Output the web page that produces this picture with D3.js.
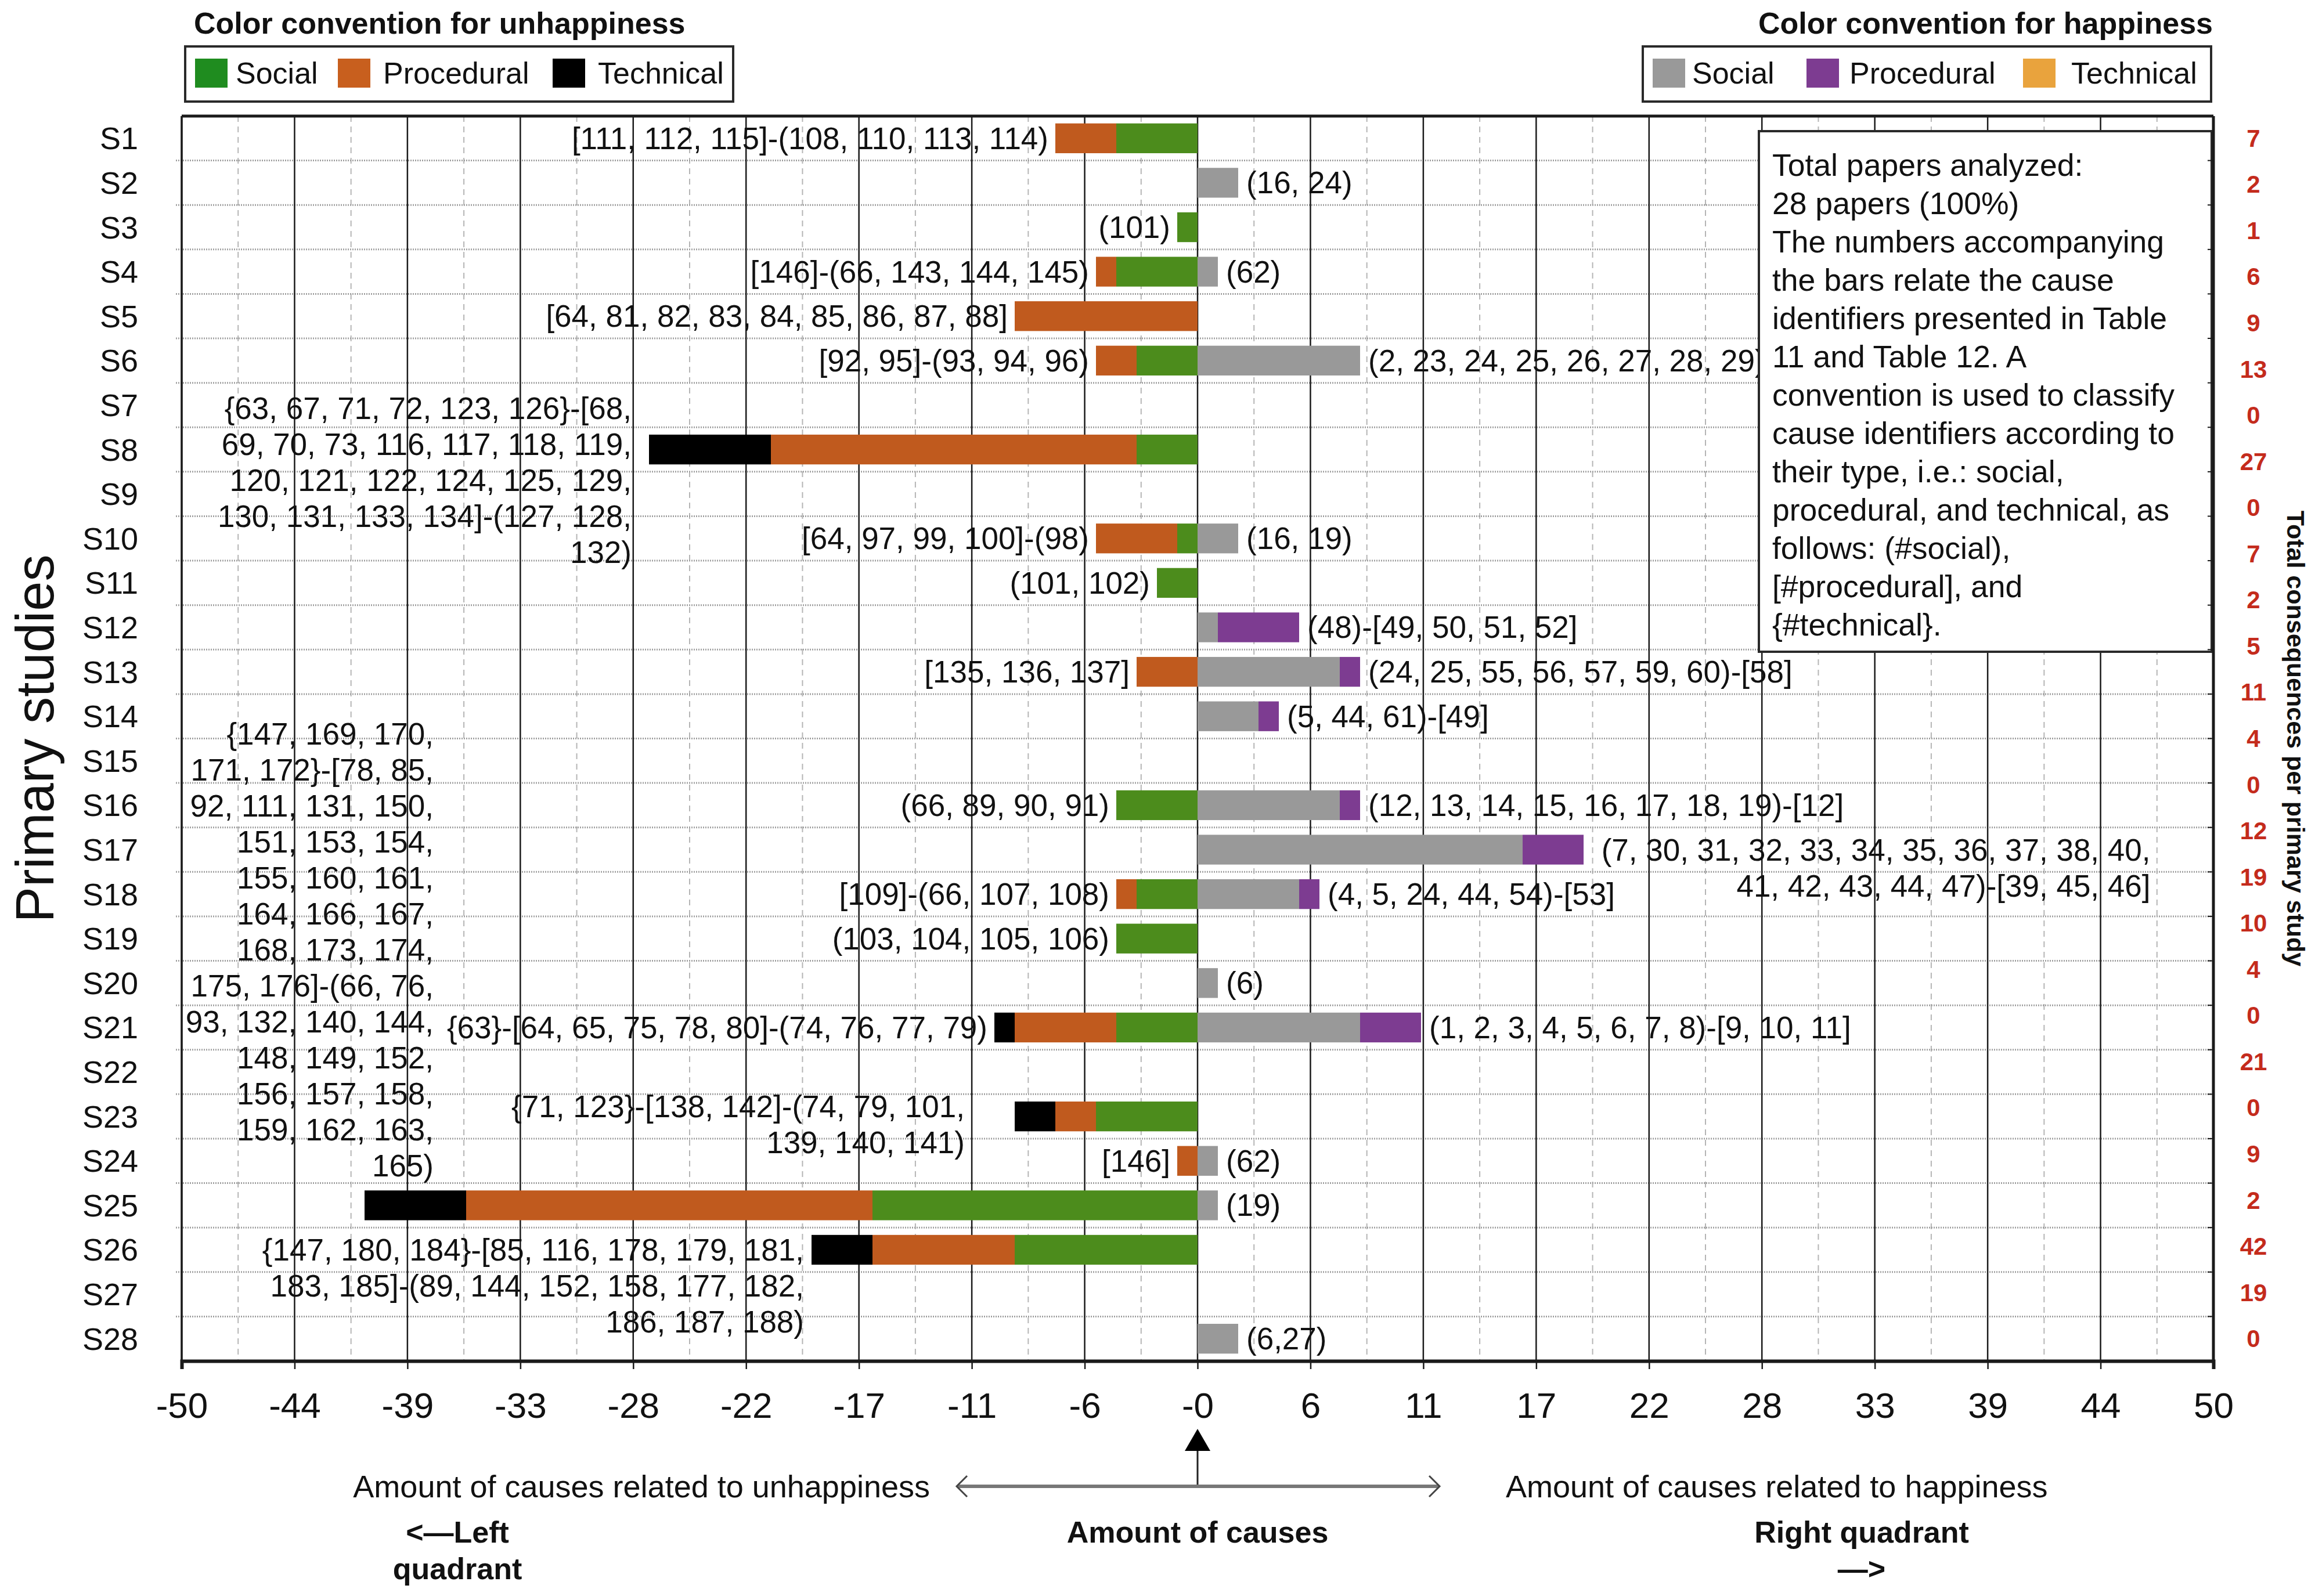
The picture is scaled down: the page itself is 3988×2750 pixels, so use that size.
<!DOCTYPE html>
<html><head><meta charset="utf-8">
<script src="https://cdn.jsdelivr.net/npm/d3@7"></script>
<style>body{margin:0;background:#fff} svg{display:block}</style>
</head><body>
<script>
// ---------------- DATA ----------------
const studies = ["S1","S2","S3","S4","S5","S6","S7","S8","S9","S10","S11","S12","S13","S14","S15","S16","S17","S18","S19","S20","S21","S22","S23","S24","S25","S26","S27","S28"];
// unhappiness (left quadrant)
const unhappySocial     = [4,0,1,4,0,3,0,3,0,1,2,0,0,0,0,4,0,3,4,0,4,0,5,0,16,9,0,0];
const unhappyProcedural = [3,0,0,1,9,2,0,18,0,4,0,0,3,0,0,0,0,1,0,0,5,0,2,1,20,7,0,0];
const unhappyTechnical  = [0,0,0,0,0,0,0,6,0,0,0,0,0,0,0,0,0,0,0,0,1,0,2,0,5,3,0,0];
// happiness (right quadrant)
const happySocial     = [0,2,0,1,0,8,0,0,0,2,0,1,7,3,0,7,16,5,0,1,8,0,0,1,1,0,0,2];
const happyProcedural = [0,0,0,0,0,0,0,0,0,0,0,4,1,1,0,1,3,1,0,0,3,0,0,0,0,0,0,0];
const happyTechnical  = [0,0,0,0,0,0,0,0,0,0,0,0,0,0,0,0,0,0,0,0,0,0,0,0,0,0,0,0];
// totals on the right (red)
const totalConsequences = [7,2,1,6,9,13,0,27,0,7,2,5,11,4,0,12,19,10,4,0,21,0,9,2,42,19,0];
const tickLabels = ["-50","-44","-39","-33","-28","-22","-17","-11","-6","-0","6","11","17","22","28","33","39","44","50"];
const legendKeys = ["Social","Procedural","Technical"];

const leftLabels = [
 "[111, 112, 115]-(108, 110, 113, 114)", null, "(101)", "[146]-(66, 143, 144, 145)",
 "[64, 81, 82, 83, 84, 85, 86, 87, 88]", "[92, 95]-(93, 94, 96)", null,
 ["{63, 67, 71, 72, 123, 126}-[68,","69, 70, 73, 116, 117, 118, 119,","120, 121, 122, 124, 125, 129,","130, 131, 133, 134]-(127, 128,","132)"],
 null, "[64, 97, 99, 100]-(98)", "(101, 102)", null, "[135, 136, 137]", null, null,
 "(66, 89, 90, 91)", null, "[109]-(66, 107, 108)", "(103, 104, 105, 106)", null,
 "{63}-[64, 65, 75, 78, 80]-(74, 76, 77, 79)", null,
 ["{71, 123}-[138, 142]-(74, 79, 101,","139, 140, 141)"],
 "[146]",
 ["{147, 169, 170,","171, 172}-[78, 85,","92, 111, 131, 150,","151, 153, 154,","155, 160, 161,","164, 166, 167,","168, 173, 174,","175, 176]-(66, 76,","93, 132, 140, 144,","148, 149, 152,","156, 157, 158,","159, 162, 163,","165)"],
 ["{147, 180, 184}-[85, 116, 178, 179, 181,","183, 185]-(89, 144, 152, 158, 177, 182,","186, 187, 188)"],
 null, null
];
const rightLabels = [
 null, "(16, 24)", null, "(62)", null, "(2, 23, 24, 25, 26, 27, 28, 29)", null, null, null,
 "(16, 19)", null, "(48)-[49, 50, 51, 52]", "(24, 25, 55, 56, 57, 59, 60)-[58]", "(5, 44, 61)-[49]", null,
 "(12, 13, 14, 15, 16, 17, 18, 19)-[12]",
 ["(7, 30, 31, 32, 33, 34, 35, 36, 37, 38, 40,","41, 42, 43, 44, 47)-[39, 45, 46]"],
 "(4, 5, 24, 44, 54)-[53]", null, "(6)", "(1, 2, 3, 4, 5, 6, 7, 8)-[9, 10, 11]", null, null,
 "(62)", "(19)", null, null, "(6,27)"
];
const noteLines = ["Total papers analyzed:","28 papers (100%)","The numbers accompanying","the bars relate the cause","identifiers presented in Table","11 and Table 12. A","convention is used to classify","cause identifiers according to","their type, i.e.: social,","procedural, and technical, as","follows: (#social),","[#procedural], and","{#technical}."];

// ---------------- LAYOUT / STYLE ----------------
const FONT = "'Liberation Sans', Arial, Helvetica, sans-serif";
const W = 3988, H = 2750;
const M = {left:313, right:3813, top:200, bottom:2345};
const unhappyColors = ["#4c8c1c","#c05a1e","#000000"];
const happyColors = ["#999999","#7d3c91","#e9a33d"];
const unhappyLegendColors = ["#1f8c1f","#c85f1e","#000000"];
const multiLayout = {
  S8:  {anchorLine:1.15, gap:30},
  S23: {anchorLine:0.27, gap:86},
  S25: {anchorLine:13.1, edge:-37.6},
  S26: {anchorLine:0, gap:13},
  S17: {anchorLine:0, edge:46.9}
};
const lineH = 62;
const labelSize = 53;

const svg = d3.select("body").append("svg").attr("width", W).attr("height", H)
  .style("font-family", FONT);
svg.append("rect").attr("width", W).attr("height", H).attr("fill", "#fff");

const x = d3.scaleLinear().domain([-50, 50]).range([M.left, M.right]);
const y = d3.scaleBand().domain(studies).range([M.top, M.bottom]).paddingInner(0.33).paddingOuter(0.165);
const step = y.step();
const yc = s => y(s) + y.bandwidth()/2;

const rows = studies.map((s,i) => ({study:s,
  uS:unhappySocial[i], uP:unhappyProcedural[i], uT:unhappyTechnical[i],
  hS:happySocial[i], hP:happyProcedural[i], hT:happyTechnical[i]}));

const majorTicks = d3.range(19).map(i => -50 + i*100/18);
const minorTicks = d3.range(18).map(i => -50 + (i+0.5)*100/18);

// ---------------- GRID ----------------
const grid = svg.append("g");
grid.selectAll(".minor").data(minorTicks).join("line")
  .attr("x1", d=>x(d)).attr("x2", d=>x(d)).attr("y1", M.top).attr("y2", M.bottom)
  .attr("stroke", "#b5b5b5").attr("stroke-width", 2).attr("stroke-dasharray", "10,8");
const boundaries = d3.range(1, studies.length).map(i => M.top + i*step);
grid.selectAll(".hb").data(boundaries).join("line")
  .attr("x1", M.left - 10).attr("x2", M.right).attr("y1", d=>d).attr("y2", d=>d)
  .attr("stroke", "#a0a0a0").attr("stroke-width", 3).attr("stroke-dasharray", "2,2");
grid.selectAll(".major").data(majorTicks).join("line")
  .attr("x1", d=>x(d)).attr("x2", d=>x(d)).attr("y1", M.top).attr("y2", M.bottom)
  .attr("stroke", "#1a1a1a").attr("stroke-width", 2.5);

// ---------------- BARS ----------------
const leftStack = d3.stack().keys(["uS","uP","uT"])(rows);
const rightStack = d3.stack().keys(["hS","hP","hT"])(rows);
const bars = svg.append("g");
leftStack.forEach((layer, k) => {
  bars.append("g").attr("fill", unhappyColors[k]).selectAll("rect")
    .data(layer.filter(d => d[1] > d[0])).join("rect")
    .attr("x", d => x(-d[1])).attr("width", d => x(-d[0]) - x(-d[1]))
    .attr("y", d => y(d.data.study)).attr("height", y.bandwidth());
});
rightStack.forEach((layer, k) => {
  bars.append("g").attr("fill", happyColors[k]).selectAll("rect")
    .data(layer.filter(d => d[1] > d[0])).join("rect")
    .attr("x", d => x(d[0])).attr("width", d => x(d[1]) - x(d[0]))
    .attr("y", d => y(d.data.study)).attr("height", y.bandwidth());
});

// ---------------- BAR LABELS ----------------
const lab = svg.append("g").attr("font-size", labelSize).attr("fill", "#111");
rows.forEach((r, i) => {
  const tl = r.uS + r.uP + r.uT, tr = r.hS + r.hP + r.hT;
  const L = leftLabels[i], R = rightLabels[i];
  if (L) {
    if (Array.isArray(L)) {
      const c = multiLayout[r.study];
      const edge = c.edge !== undefined ? x(c.edge) : x(-tl) - c.gap;
      L.forEach((t, j) => lab.append("text").attr("x", edge)
        .attr("y", yc(r.study) + (j - c.anchorLine)*lineH)
        .attr("text-anchor", "end").attr("dominant-baseline", "central").text(t));
    } else {
      lab.append("text").attr("x", x(-tl) - 12).attr("y", yc(r.study))
        .attr("text-anchor", "end").attr("dominant-baseline", "central").text(L);
    }
  }
  if (R) {
    if (Array.isArray(R)) {
      const c = multiLayout[r.study];
      R.forEach((t, j) => lab.append("text").attr("x", x(c.edge))
        .attr("y", yc(r.study) + (j - c.anchorLine)*lineH)
        .attr("text-anchor", "end").attr("dominant-baseline", "central").text(t));
    } else {
      lab.append("text").attr("x", x(tr) + 14).attr("y", yc(r.study))
        .attr("text-anchor", "start").attr("dominant-baseline", "central").text(R);
    }
  }
});

// ---------------- NOTE BOX ----------------
const note = svg.append("g");
note.append("rect").attr("x", 3030).attr("y", 226).attr("width", 780).attr("height", 897)
  .attr("fill", "#fff").attr("stroke", "#2a2a2a").attr("stroke-width", 4);
note.selectAll("text").data(noteLines).join("text")
  .attr("x", 3053).attr("y", (d,i) => 284 + i*66).attr("dominant-baseline", "central")
  .attr("font-size", 53.5).attr("fill", "#111").text(d => d);

// ---------------- FRAME & AXES ----------------
const frame = svg.append("g").attr("stroke", "#1a1a1a").attr("fill", "none");
frame.append("line").attr("x1", M.left).attr("x2", M.right).attr("y1", M.top).attr("y2", M.top).attr("stroke-width", 5);
frame.append("line").attr("x1", M.left).attr("x2", M.left).attr("y1", M.top).attr("y2", M.bottom).attr("stroke-width", 3.5);
frame.append("line").attr("x1", M.right).attr("x2", M.right).attr("y1", M.top).attr("y2", M.bottom).attr("stroke-width", 5);
frame.selectAll(".rt").data(boundaries).join("line")
  .attr("x1", M.right - 10).attr("x2", M.right).attr("y1", d=>d).attr("y2", d=>d).attr("stroke-width", 2);

const xAxis = svg.append("g").attr("transform", `translate(0,${M.bottom})`)
  .call(d3.axisBottom(x).tickValues(majorTicks).tickSize(14).tickPadding(40)
    .tickFormat((d,i) => tickLabels[i]));
xAxis.select(".domain").attr("stroke", "#1a1a1a").attr("stroke-width", 6);
xAxis.selectAll(".tick line").attr("stroke", "#1a1a1a").attr("stroke-width", 2.5);
xAxis.selectAll(".tick text").attr("font-size", 62).attr("font-family", FONT).attr("fill", "#111");

// row labels
svg.append("g").selectAll("text").data(studies).join("text")
  .attr("x", 238).attr("y", d => yc(d)).attr("text-anchor", "end")
  .attr("dominant-baseline", "central").attr("font-size", 54).attr("fill", "#111").text(d => d);

// y title
svg.append("text").attr("transform", `translate(92,${(M.top+M.bottom)/2}) rotate(-90)`)
  .attr("text-anchor", "middle").attr("font-size", 92).attr("fill", "#111").text("Primary studies");

// red totals
const yTot = d3.scalePoint().domain(d3.range(totalConsequences.length))
  .range([yc(studies[0]), yc(studies[studies.length-1])]);
svg.append("g").selectAll("text").data(totalConsequences).join("text")
  .attr("x", 3882).attr("y", (d,i) => yTot(i)).attr("text-anchor", "middle")
  .attr("dominant-baseline", "central").attr("font-size", 42).attr("font-weight", "bold")
  .attr("fill", "#c42b1c").text(d => d);
svg.append("text").attr("transform", `translate(3940,${(M.top+M.bottom)/2}) rotate(90)`)
  .attr("text-anchor", "middle").attr("font-size", 43).attr("font-weight", "bold")
  .attr("fill", "#111").text("Total consequences per primary study");

// ---------------- LEGENDS ----------------
function legend(title, titleX, anchor, box, items, colors) {
  const g = svg.append("g");
  g.append("text").attr("x", titleX).attr("y", 40).attr("text-anchor", anchor)
    .attr("dominant-baseline", "central").attr("font-size", 52).attr("font-weight", "bold")
    .attr("fill", "#111").text(title);
  g.append("rect").attr("x", box[0]).attr("y", 80).attr("width", box[1]-box[0]).attr("height", 95)
    .attr("fill", "#fff").attr("stroke", "#2a2a2a").attr("stroke-width", 4);
  items.forEach((it, k) => {
    g.append("rect").attr("x", it[0]).attr("y", 101).attr("width", 56).attr("height", 50).attr("fill", colors[k]);
    g.append("text").attr("x", it[1]).attr("y", 126).attr("dominant-baseline", "central")
      .attr("font-size", 52).attr("fill", "#111").text(legendKeys[k]);
  });
}
legend("Color convention for unhappiness", 334, "start", [319, 1263],
  [[336, 406], [582, 660], [952, 1030]], unhappyLegendColors);
legend("Color convention for happiness", 3812, "end", [2830, 3809],
  [[2847, 2915], [3112, 3186], [3485, 3568]], happyColors);

// ---------------- BOTTOM ANNOTATIONS ----------------
const x0 = x(0);
const ann = svg.append("g");
ann.append("path").attr("d", `M${x0},2462 L${x0-22},2500 L${x0+22},2500 Z`).attr("fill", "#000");
ann.append("line").attr("x1", x0).attr("x2", x0).attr("y1", 2500).attr("y2", 2561).attr("stroke", "#222").attr("stroke-width", 3);
ann.append("line").attr("x1", 1650).attr("x2", 2478).attr("y1", 2561).attr("y2", 2561).attr("stroke", "#777").attr("stroke-width", 6);
ann.append("path").attr("d", `M1666,2543 L1648,2561 L1666,2579 M2462,2543 L2480,2561 L2462,2579`)
  .attr("fill", "none").attr("stroke", "#444").attr("stroke-width", 3);
ann.append("text").attr("x", 1602).attr("y", 2561).attr("text-anchor", "end").attr("dominant-baseline", "central")
  .attr("font-size", 54).attr("fill", "#111").text("Amount of causes related to unhappiness");
ann.append("text").attr("x", 2594).attr("y", 2561).attr("text-anchor", "start").attr("dominant-baseline", "central")
  .attr("font-size", 54).attr("fill", "#111").text("Amount of causes related to happiness");
const boldT = (t, cx, cy) => ann.append("text").attr("x", cx).attr("y", cy).attr("text-anchor", "middle")
  .attr("dominant-baseline", "central").attr("font-size", 52).attr("font-weight", "bold").attr("fill", "#111").text(t);
boldT("Amount of causes", x0, 2640);
boldT("<\u2014Left", 788, 2640);
boldT("quadrant", 788, 2703);
boldT("Right quadrant", 3207, 2640);
boldT("\u2014>", 3207, 2703);
</script>
</body></html>
